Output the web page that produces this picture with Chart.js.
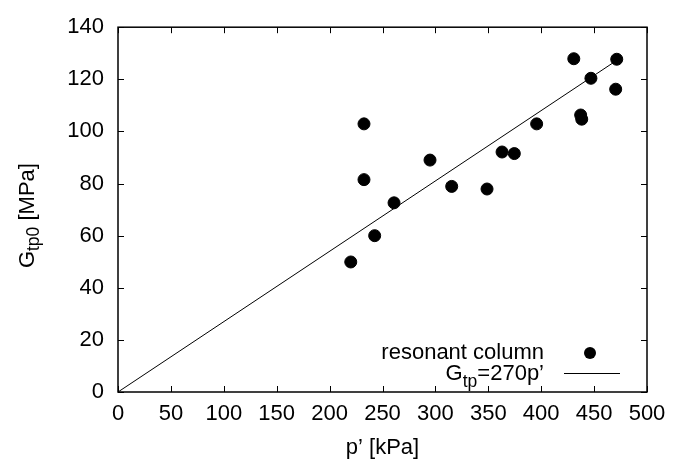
<!DOCTYPE html>
<html>
<head>
<meta charset="utf-8">
<script src="https://cdn.jsdelivr.net/npm/chart.js@4"></script>
<style>
body{margin:0;background:#fff;}
#wrap{width:696px;height:465px;}
</style>
</head>
<body>
<div id="wrap"><canvas id="myChart"></canvas></div>
<script>
'use strict';

// data
let pValues=[220,232.5,232.5,242.6,260.9,294.9,315.4,348.8,363,374.6,395.7,430.8,437.3,438.3,447,470.4,471.4];
let gValues=[49.9,102.9,81.5,60,72.6,89,78.9,77.9,92.1,91.5,102.9,127.9,106.3,104.7,120.4,116.2,127.7];
let fitP=[0,470];
let fitG=[0,126.9];
let xTicks=[0,50,100,150,200,250,300,350,400,450,500];
let yTicks=[0,20,40,60,80,100,120,140];
let pointLabel='resonant column';
let fitLabel=['G','tp','=270p\u2019'];
let yTitle=['G','tp0',' [MPa]'];
let xTitle='p\u2019 [kPa]';

let FONT='"Liberation Sans", Arial, Helvetica, sans-serif';
let FS=22;
let SUB=17.5;

function toXY(xs,ys){
    let out=[];
    for(let i=0;i<xs.length;i++){
        out.push({x:xs[i],y:ys[i]});
    }
    return out;
}

// text with a subscript: parts = [main, sub, rest]
function subWidth(ctx,parts){
    ctx.font=FS+'px '+FONT;
    let w=ctx.measureText(parts[0]).width+ctx.measureText(parts[2]).width;
    ctx.font=SUB+'px '+FONT;
    w+=ctx.measureText(parts[1]).width;
    return w;
}
function drawSub(ctx,parts,x,y,drop){
    ctx.textAlign='left';
    ctx.textBaseline='alphabetic';
    ctx.font=FS+'px '+FONT;
    ctx.fillText(parts[0],x,y);
    x+=ctx.measureText(parts[0]).width;
    ctx.font=SUB+'px '+FONT;
    ctx.fillText(parts[1],x,y+drop);
    x+=ctx.measureText(parts[1]).width;
    ctx.font=FS+'px '+FONT;
    ctx.fillText(parts[2],x,y);
}

let framePlugin={
    id:'frame',
    afterDraw(chart){
        let ctx=chart.ctx;
        let a=chart.chartArea;
        let xs=chart.scales.x;
        let ys=chart.scales.y;
        ctx.save();
        ctx.strokeStyle='#000';
        ctx.lineWidth=1.5;
        ctx.strokeRect(a.left,a.top,a.right-a.left,a.bottom-a.top);
        ctx.lineWidth=1;
        ctx.beginPath();
        for(let v of xTicks){
            let px=Math.round(xs.getPixelForValue(v))+0.5;
            ctx.moveTo(px,a.bottom);ctx.lineTo(px,a.bottom-6);
            ctx.moveTo(px,a.top);ctx.lineTo(px,a.top+6);
        }
        for(let v of yTicks){
            let py=Math.round(ys.getPixelForValue(v))+0.5;
            ctx.moveTo(a.left,py);ctx.lineTo(a.left+6,py);
            ctx.moveTo(a.right,py);ctx.lineTo(a.right-6,py);
        }
        ctx.stroke();

        // y title with subscript
        ctx.fillStyle='#000';
        ctx.save();
        ctx.translate(33.5,(a.top+a.bottom)/2+6);
        ctx.rotate(-Math.PI/2);
        let w=subWidth(ctx,yTitle);
        drawSub(ctx,yTitle,-w/2,0,5);
        ctx.restore();

        // legend
        let rx=544;
        ctx.font=FS+'px '+FONT;
        ctx.textAlign='right';
        ctx.textBaseline='middle';
        ctx.fillText(pointLabel,rx,353);
        ctx.beginPath();
        ctx.arc(590,353,6,0,Math.PI*2);
        ctx.fill();
        let w2=subWidth(ctx,fitLabel);
        drawSub(ctx,fitLabel,rx-w2,380,7);
        ctx.beginPath();
        ctx.moveTo(564,373.5);ctx.lineTo(620,373.5);
        ctx.stroke();
        ctx.restore();
    }
};

let ctx=document.getElementById('myChart').getContext('2d');
let myChart=new Chart(ctx,{
    type:'scatter',
    data:{
        datasets:[{
            label:pointLabel,
            data:toXY(pValues,gValues),
            backgroundColor:'#000',
            borderColor:'#000',
            pointRadius:6,
            pointHoverRadius:6,
            showLine:false
        },{
            label:fitLabel.join(''),
            data:toXY(fitP,fitG),
            borderColor:'#000',
            borderWidth:1,
            pointRadius:0,
            showLine:true
        }]
    },
    options:{
        responsive:true,
        maintainAspectRatio:false,
        animation:false,
        layout:{padding:{left:0,right:49,top:14,bottom:0}},
        plugins:{legend:{display:false},tooltip:{enabled:false}},
        scales:{
            x:{
                type:'linear',
                min:xTicks[0],
                max:xTicks[xTicks.length-1],
                afterBuildTicks(s){s.ticks=xTicks.map(v=>({value:v}));},
                afterFit(s){s.height=73;},
                grid:{display:false,drawTicks:false},
                border:{display:false},
                ticks:{color:'#000',padding:9,maxRotation:0,font:{family:FONT,size:FS}},
                title:{display:true,text:xTitle,color:'#000',font:{family:FONT,size:FS},padding:{top:0,bottom:4}}
            },
            y:{
                type:'linear',
                min:yTicks[0],
                max:yTicks[yTicks.length-1],
                afterBuildTicks(s){s.ticks=yTicks.map(v=>({value:v}));},
                afterFit(s){s.width=118;},
                grid:{display:false,drawTicks:false},
                border:{display:false},
                ticks:{color:'#000',padding:14,font:{family:FONT,size:FS}}
            }
        }
    },
    plugins:[framePlugin]
});
</script>
</body>
</html>
